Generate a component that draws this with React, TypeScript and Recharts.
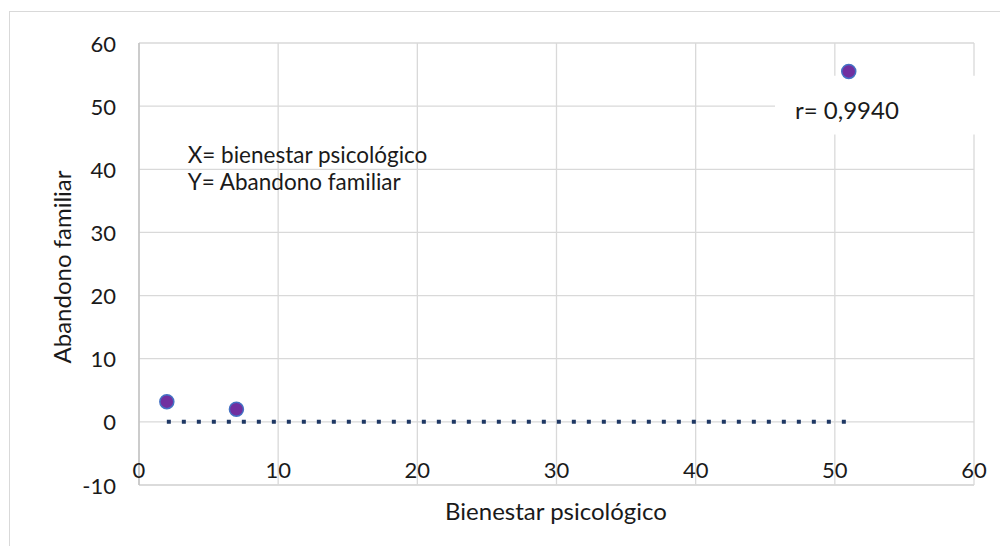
import { ScatterChart, Scatter, XAxis, YAxis, CartesianGrid, ReferenceArea, ReferenceDot, Label } from "recharts";

// observed points (bienestar psicológico, abandono familiar)
const xValues = [2, 7, 51];
const yValues = [3.2, 2, 55.5];

// dotted trend line drawn at zero across the data range
const trendX = [2, 51];
const trendY = [0, 0];

const xTicks = [0, 10, 20, 30, 40, 50, 60];
const yTicks = [-10, 0, 10, 20, 30, 40, 50, 60];

const points = xValues.map((x, i) => ({ x, y: yValues[i] }));
const trend = trendX.map((x, i) => ({ x, y: trendY[i] }));

const FONT = "Lato, 'Open Sans', sans-serif";
const TEXT_COLOR = "#1a1a1a";
const TICK_SIZE = 22;
const TEXT_SIZE = 24;
const NOTE_SIZE = 22.5;

// x labels sit just under the zero line, not at the bottom of the plot
const XTick = (props: any) => {
  const { x, y, payload } = props;
  return (
    <text x={x} y={y - 24} textAnchor="middle" dominantBaseline="central" fontSize={TICK_SIZE} fontFamily={FONT} fill={TEXT_COLOR}>
      {payload.value}
    </text>
  );
};

const YTick = (props: any) => {
  const { y, payload } = props;
  return (
    <text x={116} y={y} textAnchor="end" dominantBaseline="central" fontSize={TICK_SIZE} fontFamily={FONT} fill={TEXT_COLOR}>
      {payload.value}
    </text>
  );
};

export default function App() {
  return (
    <div style={{ position: "fixed", left: 0, top: 0, width: 1000, height: 546, overflow: "hidden", background: "#fff" }}>
      {/* chart frame */}
      <div style={{ position: "absolute", left: 9, top: 11, width: 1000, height: 600, border: "1px solid #d9d9d9", boxSizing: "border-box" }} />
      <div style={{ position: "absolute", left: 0, top: 0 }}>
        <ScatterChart width={1000} height={546} margin={{ top: 43, right: 26, bottom: 31, left: 79 }}>
          <CartesianGrid stroke="#d9d9d9" strokeWidth={1.3} />
          <XAxis
            type="number"
            dataKey="x"
            domain={[0, 60]}
            ticks={xTicks}
            height={30}
            axisLine={{ stroke: "#d9d9d9", strokeWidth: 1.3 }}
            tickLine={false}
            tick={<XTick />}
            interval={0}
          >
            <Label
              content={() => (
                <text x={556} y={510} textAnchor="middle" dominantBaseline="central" fontSize={TEXT_SIZE} fontFamily={FONT} fill={TEXT_COLOR}>
                  Bienestar psicológico
                </text>
              )}
            />
          </XAxis>
          <YAxis
            type="number"
            dataKey="y"
            domain={[-10, 60]}
            ticks={yTicks}
            width={60}
            axisLine={{ stroke: "#bfbfbf", strokeWidth: 1.3 }}
            tickLine={false}
            tick={<YTick />}
            interval={0}
          >
            <Label
              content={() => (
                <text x={61} y={267} textAnchor="middle" dominantBaseline="central" fontSize={TEXT_SIZE} fontFamily={FONT} fill={TEXT_COLOR} transform="rotate(-90 61 267)">
                  Abandono familiar
                </text>
              )}
            />
          </YAxis>
          <Scatter
            data={trend}
            line={{ stroke: "#1f3864", strokeWidth: 4, strokeDasharray: "4 11" }}
            shape={() => <g />}
            isAnimationActive={false}
          />
          <Scatter
            data={points}
            fill="#7030a0"
            stroke="#4472c4"
            strokeWidth={1.5}
            shape={(p: any) => <circle cx={p.cx} cy={p.cy} r={7} fill="#7030a0" stroke="#4472c4" strokeWidth={1.5} />}
            isAnimationActive={false}
          />
          <ReferenceArea x1={45.7} x2={62} y1={45.5} y2={54.8} fill="#fff" fillOpacity={1} stroke="none" ifOverflow="visible">
            <Label
              content={(p: any) => (
                <text x={p.viewBox.x + 20} y={p.viewBox.y + 34} dominantBaseline="central" fontSize={TEXT_SIZE} fontFamily={FONT} fill={TEXT_COLOR}>
                  r= 0,9940
                </text>
              )}
            />
          </ReferenceArea>
          <ReferenceDot x={3.5} y={42.3} r={0} fill="none" stroke="none" ifOverflow="visible">
            <Label
              content={(p: any) => (
                <g fontSize={NOTE_SIZE} fontFamily={FONT} fill={TEXT_COLOR}>
                  <text x={p.viewBox.x} y={p.viewBox.y} dominantBaseline="central">X= bienestar psicológico</text>
                  <text x={p.viewBox.x} y={p.viewBox.y + 27} dominantBaseline="central">Y= Abandono familiar</text>
                </g>
              )}
            />
          </ReferenceDot>
        </ScatterChart>
      </div>
    </div>
  );
}
